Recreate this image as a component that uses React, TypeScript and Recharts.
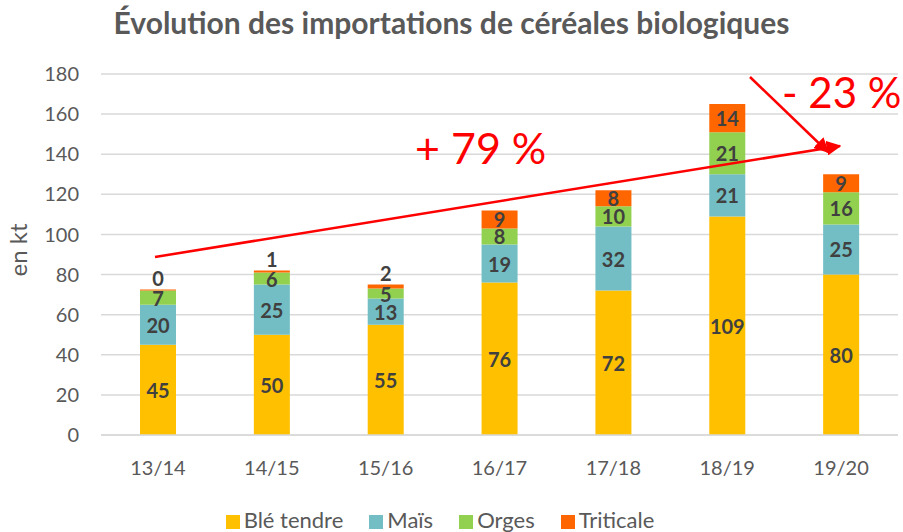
import React from 'react';
import { BarChart, Bar, XAxis, YAxis, CartesianGrid, Legend, LabelList } from 'recharts';

const campaigns = ['13/14', '14/15', '15/16', '16/17', '17/18', '18/19', '19/20'];
const bleTendre = [45, 50, 55, 76, 72, 109, 80];
const mais = [20, 25, 13, 19, 32, 21, 25];
const orges = [7, 6, 5, 8, 10, 21, 16];
const triticale = [0, 1, 2, 9, 8, 14, 9];
const yTicks = [0, 20, 40, 60, 80, 100, 120, 140, 160, 180];

const data = campaigns.map((c, i) => ({
  name: c,
  ble: bleTendre[i],
  mais: mais[i],
  orges: orges[i],
  triticale: triticale[i],
}));

const FONT = 'Lato, "Open Sans", sans-serif';
const LABEL_COLOR = '#404040';
const LABEL_SIZE = 20;

const centerLabel = (props: any) => {
  const { x, y, width, height, value } = props;
  return (
    <text x={x + width / 2} y={y + height / 2} textAnchor="middle" dominantBaseline="central"
      fill={LABEL_COLOR} fontSize={LABEL_SIZE} fontWeight="bold" fontFamily={FONT}>{value}</text>
  );
};

const triticaleLabel = (props: any) => {
  const { x, y, width, height, value } = props;
  const small = value <= 2;
  const cy = small ? y - 12 : y + height / 2;
  return (
    <text x={x + width / 2} y={cy} textAnchor="middle" dominantBaseline="central"
      fill={LABEL_COLOR} fontSize={LABEL_SIZE} fontWeight="bold" fontFamily={FONT}>{value}</text>
  );
};

export default function App() {
  return (
    <div style={{ position: 'absolute', left: 0, top: 0, width: 903, height: 532, background: '#fff', fontFamily: FONT }}>
      <div style={{ position: 'absolute', left: 0, top: 4, width: 903, textAlign: 'center', fontSize: 30, fontWeight: 'bold', color: '#595959' }}>
        Évolution des importations de céréales biologiques
      </div>
      <BarChart width={903} height={532} data={data} margin={{ top: 74, right: 5, bottom: 0, left: 0 }} barSize={36}>
        <CartesianGrid vertical={false} stroke="#d9d9d9" strokeWidth={1.5} />
        <XAxis dataKey="name" height={73} tickLine={false} axisLine={{ stroke: '#d9d9d9', strokeWidth: 1.5 }}
          tick={{ fill: '#595959', fontSize: 20, fontFamily: FONT }} tickMargin={20} />
        <YAxis width={101} domain={[0, 180]} ticks={yTicks} axisLine={false} tickLine={false}
          tick={{ fill: '#595959', fontSize: 20, fontFamily: FONT }} tickMargin={16} />
        <Legend verticalAlign="bottom" height={24} iconType="square" iconSize={14}
          wrapperStyle={{ fontSize: 22, fontFamily: FONT, lineHeight: '24px', paddingLeft: 4 }}
          formatter={(v: string) => <span style={{ color: '#595959', fontSize: 22, marginRight: 16 }}>{v}</span>} />
        <Bar dataKey="ble" name="Blé tendre" stackId="a" fill="#FFC000" isAnimationActive={false}>
          <LabelList dataKey="ble" content={centerLabel} />
        </Bar>
        <Bar dataKey="mais" name="Maïs" stackId="a" fill="#72BEC4" isAnimationActive={false}>
          <LabelList dataKey="mais" content={centerLabel} />
        </Bar>
        <Bar dataKey="orges" name="Orges" stackId="a" fill="#92D050" isAnimationActive={false}>
          <LabelList dataKey="orges" content={centerLabel} />
        </Bar>
        <Bar dataKey="triticale" name="Triticale" stackId="a" fill="#FF6600" minPointSize={1} isAnimationActive={false}>
          <LabelList dataKey="triticale" content={triticaleLabel} />
        </Bar>
      </BarChart>
      <svg width={903} height={532} style={{ position: 'absolute', left: 0, top: 0, pointerEvents: 'none' }}>
        <defs>
          <marker id="ah" viewBox="0 0 10 10" refX="9" refY="5" markerWidth="6" markerHeight="6" orient="auto-start-reverse" markerUnits="strokeWidth">
            <path d="M0,0 L10,5 L0,10 z" fill="#FF0000" />
          </marker>
        </defs>
        <line x1={155} y1={257} x2={840} y2={146} stroke="#FF0000" strokeWidth={2.5} markerEnd="url(#ah)" />
        <line x1={750} y1={77} x2={828} y2={152} stroke="#FF0000" strokeWidth={2.5} markerEnd="url(#ah)" />
        <text x={415} y={164} fill="#FF0000" fontSize={43} fontFamily={FONT}>+ 79 %</text>
        <text x={782} y={108} fill="#FF0000" fontSize={42} fontFamily={FONT}>- 23 %</text>
        <text transform="translate(27,250) rotate(-90)" textAnchor="middle" fill="#595959" fontSize={24} fontFamily={FONT}>en kt</text>
      </svg>
    </div>
  );
}
